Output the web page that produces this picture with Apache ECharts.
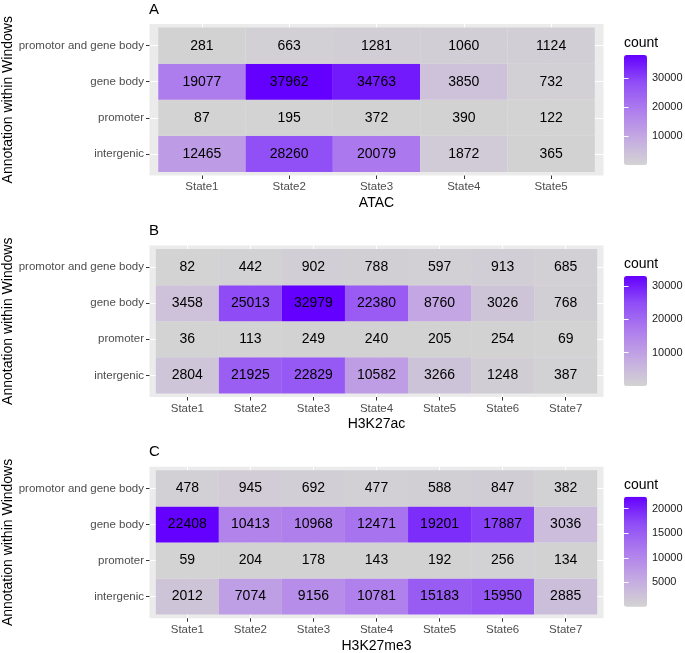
<!DOCTYPE html>
<html>
<head>
<meta charset="utf-8">
<script src="https://cdn.jsdelivr.net/npm/echarts@6/dist/echarts.min.js"></script>
<style>html,body{margin:0;padding:0;background:#fff}#c{width:685px;height:653px}</style>
</head>
<body>
<div id="c"></div>
<script>
// ---- data ----
const annotations = ['intergenic', 'promoter', 'gene body', 'promotor and gene body']; // bottom -> top
const statesA = ['State1', 'State2', 'State3', 'State4', 'State5'];
const statesB = ['State1', 'State2', 'State3', 'State4', 'State5', 'State6', 'State7'];
const statesC = ['State1', 'State2', 'State3', 'State4', 'State5', 'State6', 'State7'];
const panelTitles = ['A', 'B', 'C'];
const xTitles = ['ATAC', 'H3K27ac', 'H3K27me3'];
const yTitle = 'Annotation within Windows';
const legendTitle = 'count';

const atacIntergenic = [12465, 28260, 20079, 1872, 365];
const atacPromoter = [87, 195, 372, 390, 122];
const atacGeneBody = [19077, 37962, 34763, 3850, 732];
const atacPromotorGeneBody = [281, 663, 1281, 1060, 1124];

const h3k27acIntergenic = [2804, 21925, 22829, 10582, 3266, 1248, 387];
const h3k27acPromoter = [36, 113, 249, 240, 205, 254, 69];
const h3k27acGeneBody = [3458, 25013, 32979, 22380, 8760, 3026, 768];
const h3k27acPromotorGeneBody = [82, 442, 902, 788, 597, 913, 685];

const h3k27me3Intergenic = [2012, 7074, 9156, 10781, 15183, 15950, 2885];
const h3k27me3Promoter = [59, 204, 178, 143, 192, 256, 134];
const h3k27me3GeneBody = [22408, 10413, 10968, 12471, 19201, 17887, 3036];
const h3k27me3PromotorGeneBody = [478, 945, 692, 477, 588, 847, 382];

const legendTicksA = [10000, 20000, 30000];
const legendTicksB = [10000, 20000, 30000];
const legendTicksC = [5000, 10000, 15000, 20000];

// ---- build ----
const FONT = '"Liberation Sans", Arial, Helvetica, sans-serif';
const ramp = ['#D3D3D3', '#C4A9E2', '#AE7DED', '#904EF6', '#6400FF'];

const panels = [
  {states: statesA, rows: [atacIntergenic, atacPromoter, atacGeneBody, atacPromotorGeneBody], ticks: legendTicksA, top: 24, barTop: 55},
  {states: statesB, rows: [h3k27acIntergenic, h3k27acPromoter, h3k27acGeneBody, h3k27acPromotorGeneBody], ticks: legendTicksB, top: 245.5, barTop: 276},
  {states: statesC, rows: [h3k27me3Intergenic, h3k27me3Promoter, h3k27me3GeneBody, h3k27me3PromotorGeneBody], ticks: legendTicksC, top: 466.7, barTop: 496.7}
];

const PANEL_LEFT = 149.5, PANEL_W = 454, PANEL_H = 151.5;
const BAR_LEFT = 624, BAR_W = 23, BAR_H = 110;

const grid = [], xAxis = [], yAxis = [], series = [], visualMap = [], title = [];
const lgGrid = [], lgX = [], lgY = [];

panels.forEach((p, i) => {
  const data = [];
  p.rows.forEach((row, r) => row.forEach((v, c) => data.push([c, r, v])));
  const all = [].concat(...p.rows);
  const vmin = Math.min(...all), vmax = Math.max(...all);
  const n = p.states.length;
  const xIdx = p.states.map((s, k) => k);
  const yIdx = annotations.map((s, k) => k);

  grid.push({left: PANEL_LEFT, top: p.top, width: PANEL_W, height: PANEL_H, show: true, backgroundColor: '#EBEBEB', borderWidth: 0, outerBoundsMode: 'none', containLabel: false});
  xAxis.push({
    type: 'value', gridIndex: i, min: -0.6, max: n - 0.4,
    axisLine: {show: false, onZero: false},
    axisTick: {show: true, customValues: xIdx, length: 3.5, lineStyle: {color: '#333333', width: 1}},
    axisLabel: {customValues: xIdx, formatter: v => p.states[Math.round(v)], color: '#4D4D4D', fontSize: 11.5, fontFamily: FONT, margin: 5.5},
    splitLine: {show: true, lineStyle: {color: '#FFFFFF', width: 1.1}},
    name: xTitles[i], nameLocation: 'middle', nameGap: 20.5, nameMoveOverlap: false,
    nameTextStyle: {color: '#000', fontSize: 14, fontFamily: FONT}
  });
  yAxis.push({
    type: 'value', gridIndex: i, min: -0.6, max: annotations.length - 0.4,
    axisLine: {show: false, onZero: false},
    axisTick: {show: true, customValues: yIdx, length: 3.5, lineStyle: {color: '#333333', width: 1}},
    axisLabel: {customValues: yIdx, formatter: v => annotations[Math.round(v)], color: '#4D4D4D', fontSize: 11.5, fontFamily: FONT, margin: 5.5},
    splitLine: {show: true, lineStyle: {color: '#FFFFFF', width: 1.1}},
    name: yTitle, nameLocation: 'middle', nameRotate: 90, nameGap: 134, nameMoveOverlap: false,
    nameTextStyle: {color: '#000', fontSize: 14, fontFamily: FONT}
  });
  series.push({
    type: 'custom', coordinateSystem: 'cartesian2d', xAxisIndex: i, yAxisIndex: i, data: data,
    encode: {x: 0, y: 1},
    renderItem: (params, api) => {
      const x = api.value(0), y = api.value(1);
      const p0 = api.coord([x - 0.5, y + 0.5]);
      const p1 = api.coord([x + 0.5, y - 0.5]);
      return {
        type: 'rect',
        shape: {x: p0[0], y: p0[1], width: p1[0] - p0[0], height: p1[1] - p0[1]},
        style: {fill: api.visual('color')},
        textContent: {style: {text: String(api.value(2)), fill: '#000', fontSize: 14, fontFamily: FONT}},
        textConfig: {position: 'inside'}
      };
    }
  });
  visualMap.push({
    type: 'continuous', seriesIndex: i, dimension: 2, min: vmin, max: vmax,
    inRange: {color: ramp}, left: BAR_LEFT, top: p.barTop, itemWidth: BAR_W, itemHeight: BAR_H,
    calculable: false, hoverLink: false, padding: 0, showLabel: false
  });
  // legend scale axis
  lgGrid.push({left: BAR_LEFT, top: p.barTop, width: BAR_W, height: BAR_H, show: false, outerBoundsMode: 'none', containLabel: false});
  lgX.push({type: 'value', gridIndex: 3 + i, show: false});
  lgY.push({
    type: 'value', gridIndex: 3 + i, position: 'right', min: vmin, max: vmax, z: 10,
    axisLine: {show: false},
    axisTick: {show: true, inside: true, customValues: p.ticks, length: 4.5, lineStyle: {color: '#FFFFFF', width: 1}},
    axisLabel: {customValues: p.ticks, formatter: v => String(v), color: '#1A1A1A', fontSize: 11, fontFamily: FONT, margin: 5},
    splitLine: {show: false}
  });
  lgY.push({
    type: 'value', gridIndex: 3 + i, position: 'left', min: vmin, max: vmax, z: 10,
    axisLine: {show: false},
    axisTick: {show: true, inside: true, customValues: p.ticks, length: 4.5, lineStyle: {color: '#FFFFFF', width: 1}},
    axisLabel: {show: false},
    splitLine: {show: false}
  });
  title.push({text: panelTitles[i], left: 149, top: p.top - 22, padding: 0,
    textStyle: {color: '#000', fontSize: 15, fontWeight: 'normal', fontFamily: FONT}});
  title.push({text: legendTitle, left: BAR_LEFT, top: p.barTop - 19, padding: 0,
    textStyle: {color: '#000', fontSize: 14, fontWeight: 'normal', fontFamily: FONT}});
});

const chart = echarts.init(document.getElementById('c'), null, {renderer: 'canvas'});
chart.setOption({
  backgroundColor: '#FFFFFF',
  animation: false,
  textStyle: {fontFamily: FONT},
  title: title,
  grid: grid.concat(lgGrid),
  xAxis: xAxis.concat(lgX),
  yAxis: yAxis.concat(lgY),
  series: series,
  visualMap: visualMap
});
</script>
</body>
</html>
